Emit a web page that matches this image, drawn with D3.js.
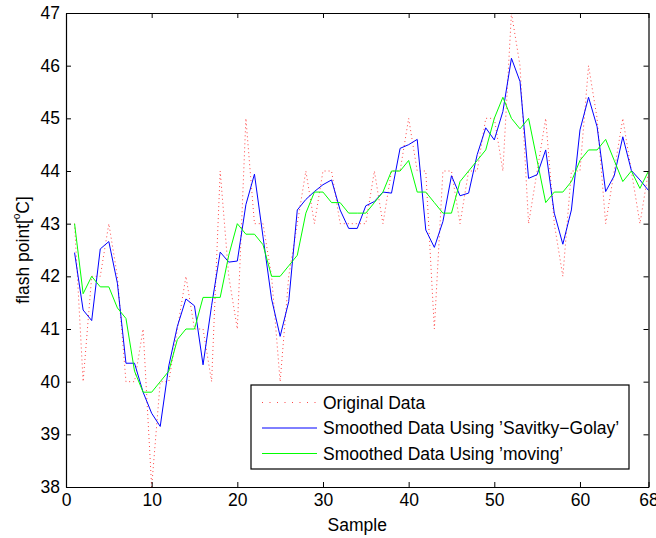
<!DOCTYPE html>
<html>
<head>
<meta charset="utf-8">
<script src="https://cdn.jsdelivr.net/npm/d3@7"></script>
<style>
  html, body { margin: 0; padding: 0; background: #fff; }
  svg { display: block; font-family: 'Liberation Sans', Arial, sans-serif; }
</style>
</head>
<body>
<div id="chart"></div>
<script>
// flash point readings per sample (1..68)
const original = [43, 40, 42, 42, 43, 42, 40, 40, 41, 38, 40, 40, 41, 42, 41, 41, 40, 44, 42, 41,
  45, 43, 43, 42, 40, 42, 43, 44, 43, 44, 44, 43, 43, 43, 43, 44, 43, 44, 44, 45,
  44, 44, 41, 44, 44, 43, 44, 44, 45, 45, 44, 47, 46, 43, 44, 45, 43, 42, 44, 44,
  46, 45, 43, 44, 45, 44, 43, 44]

const savitzkyGolay = [42.45, 41.36, 41.16, 42.52, 42.66, 41.87, 40.35, 40.35, 39.8, 39.4,
  39.15, 40.3, 41.05, 41.57, 41.44, 40.32, 41.45, 42.46, 42.27, 42.29,
  43.36, 43.94, 42.75, 41.57, 40.86, 41.52, 43.26, 43.46, 43.61, 43.74,
  43.83, 43.26, 42.91, 42.91, 43.34, 43.42, 43.6, 43.58, 44.43, 44.5,
  44.6, 42.88, 42.55, 43.04, 43.91, 43.53, 43.58, 44.31, 44.82, 44.59,
  45.13, 46.14, 45.7, 43.86, 43.93, 44.4, 43.2, 42.61, 43.26, 44.78,
  45.4, 44.84, 43.61, 43.91, 44.65, 44.01, 43.83, 43.63]

const moving = [43, 41.67, 42, 41.8, 41.8, 41.4, 41.2, 40.2, 39.8, 39.8,
  40, 40.2, 40.8, 41, 41, 41.6, 41.6, 41.6, 42.4, 43,
  42.8, 42.8, 42.6, 42, 42, 42.2, 42.4, 43.2, 43.6, 43.6,
  43.4, 43.4, 43.2, 43.2, 43.2, 43.4, 43.6, 44, 44, 44.2,
  43.6, 43.6, 43.4, 43.2, 43.2, 43.8, 44, 44.2, 44.4, 45,
  45.4, 45, 44.8, 45, 44.2, 43.4, 43.6, 43.6, 43.8, 44.2,
  44.4, 44.4, 44.6, 44.2, 43.8, 44, 43.67, 44]

const xTicks = [0, 10, 20, 30, 40, 50, 60, 68]
const yTicks = [38, 39, 40, 41, 42, 43, 44, 45, 46, 47]

const seriesNames = ['Original Data', 'Smoothed Data Using ’Savitky−Golay’', 'Smoothed Data Using ’moving’']

const width = 656
const height = 538
const margin = { top: 13, right: 7.5, bottom: 51, left: 66 }
const fontSize = 17.5

const svg = d3.select('#chart')
  .append('svg')
  .attr('width', width)
  .attr('height', height)

const x = d3.scaleLinear()
  .domain([0, 68])
  .range([margin.left, width - margin.right])

const y = d3.scaleLinear()
  .domain([38, 47])
  .range([height - margin.bottom, margin.top])

// Clip lines to the axes box
svg.append('clipPath')
  .attr('id', 'plot-clip')
  .append('rect')
  .attr('x', x(0))
  .attr('y', y(47))
  .attr('width', x(68) - x(0))
  .attr('height', y(38) - y(47))

const line = d3.line()
  .x((d, i) => x(i + 1))
  .y(d => y(d))

const styles = [
  { color: '#ff3030', dash: '1,3', width: 0.9 },
  { color: '#0000ff', dash: null, width: 1 },
  { color: '#00ff00', dash: null, width: 1 }
]

const plot = svg.append('g').attr('clip-path', 'url(#plot-clip)')

;[original, savitzkyGolay, moving].forEach((values, k) => {
  plot.append('path')
    .datum(values)
    .attr('fill', 'none')
    .attr('stroke', styles[k].color)
    .attr('stroke-width', styles[k].width)
    .attr('stroke-dasharray', styles[k].dash)
    .attr('d', line)
})

// Axes, MATLAB style: ticks point inward on all four sides
const axisB = svg.append('g')
  .attr('transform', `translate(0,${y(38)})`)
  .call(d3.axisBottom(x).tickValues(xTicks).tickSizeInner(-5).tickSizeOuter(0).tickPadding(7))

const axisT = svg.append('g')
  .attr('transform', `translate(0,${y(47)})`)
  .call(d3.axisTop(x).tickValues(xTicks).tickSizeInner(-5).tickSizeOuter(0).tickFormat(''))

const axisL = svg.append('g')
  .attr('transform', `translate(${x(0)},0)`)
  .call(d3.axisLeft(y).tickValues(yTicks).tickSizeInner(-5).tickSizeOuter(0).tickPadding(6))

const axisR = svg.append('g')
  .attr('transform', `translate(${x(68)},0)`)
  .call(d3.axisRight(y).tickValues(yTicks).tickSizeInner(-5).tickSizeOuter(0).tickFormat(''))

;[axisB, axisT, axisL, axisR].forEach(g => {
  g.select('.domain').attr('stroke', '#000').attr('stroke-width', 1.2)
  g.selectAll('.tick line').attr('stroke', '#000')
  g.selectAll('text')
    .attr('fill', '#000')
    .style('font-size', fontSize + 'px')
    .style('font-family', 'Liberation Sans, Arial, sans-serif')
})

// Axis labels
svg.append('text')
  .attr('x', (x(0) + x(68)) / 2)
  .attr('y', 531)
  .attr('text-anchor', 'middle')
  .style('font-size', fontSize + 'px')
  .text('Sample')

const yLabel = svg.append('text')
  .attr('transform', `translate(29,${(y(38) + y(47)) / 2}) rotate(-90)`)
  .attr('text-anchor', 'middle')
  .style('font-size', fontSize + 'px')

yLabel.append('tspan').text('flash point[ ')
yLabel.append('tspan')
  .attr('dx', -5)
  .attr('dy', -9)
  .style('font-size', '10px')
  .text('o')
yLabel.append('tspan').attr('dy', 9).text('C]')

// Legend
const legend = svg.append('g')

legend.append('rect')
  .attr('x', 251)
  .attr('y', 385)
  .attr('width', 378)
  .attr('height', 84)
  .attr('fill', '#fff')
  .attr('stroke', '#000')
  .attr('stroke-width', 1.2)

seriesNames.forEach((name, i) => {
  const rowY = 402.5 + i * 25.5

  legend.append('line')
    .attr('x1', 262)
    .attr('x2', 317)
    .attr('y1', rowY)
    .attr('y2', rowY)
    .attr('stroke', styles[i].color)
    .attr('stroke-width', styles[i].width)
    .attr('stroke-dasharray', i === 0 ? '1,6.5' : null)

  legend.append('text')
    .attr('x', 323)
    .attr('y', rowY)
    .attr('dy', '0.35em')
    .style('font-size', fontSize + 'px')
    .text(name)
})
</script>
</body>
</html>
